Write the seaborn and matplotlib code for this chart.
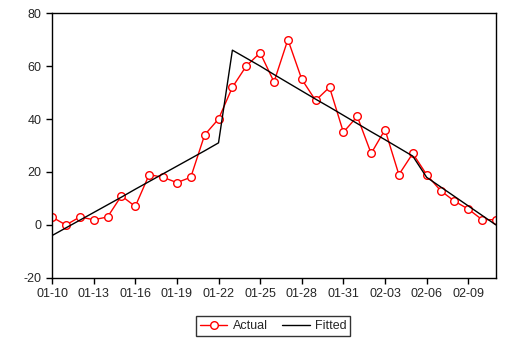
import matplotlib
matplotlib.use('Agg')
import matplotlib.pyplot as plt
import matplotlib.dates as mdates
import pandas as pd
import seaborn as sns

dates = pd.date_range('2020-01-10', '2020-02-11', freq='D')
actual = [3, 0, 3, 2, 3, 11, 7, 19, 18, 16, 18, 34, 40, 52, 60, 65, 54, 70, 55, 47,
          52, 35, 41, 27, 36, 19, 27, 19, 13, 9, 6, 2, 2]
fitted = [-4, -1.1, 1.8, 4.7, 7.6, 10.5, 13.5, 16.4, 19.3, 22.2, 25.1, 28.0, 31.0,
          66, 63, 60, 56.8, 53.7, 50.6, 47.5, 44.5, 41.4, 38.3, 35.2, 32.2, 29.1, 26.0,
          18, 14.4, 10.8, 7.2, 3.6, 0]

df = pd.DataFrame({'date': dates, 'Actual': actual, 'Fitted': fitted})

sns.set_style('white')
plt.rcParams['font.family'] = ['Liberation Sans', 'DejaVu Sans']
plt.rcParams['axes.unicode_minus'] = False

fig = plt.figure(figsize=(5.08, 3.44), dpi=100)
ax = fig.add_axes([0.1024, 0.192, 0.874, 0.770])

sns.lineplot(x='date', y='Actual', data=df, ax=ax, color='red', lw=1,
             marker='o', markersize=5.5, markerfacecolor='white',
             markeredgecolor='red', markeredgewidth=1, label='Actual')
sns.lineplot(x='date', y='Fitted', data=df, ax=ax, color='black', lw=1, label='Fitted')

ax.set_xlim(dates[0], dates[-1])
ax.set_ylim(-20, 80)
ax.set_yticks([-20, 0, 20, 40, 60, 80])
ax.set_xticks(dates[::3])
ax.xaxis.set_major_formatter(mdates.DateFormatter('%m-%d'))
ax.set_xlabel('')
ax.set_ylabel('')
for s in ax.spines.values():
    s.set_color('black')
    s.set_linewidth(1)
ax.tick_params(axis='both', which='major', direction='out', length=4, width=1,
               color='black', labelsize=9, left=True, bottom=True)

ax.get_legend().remove()
h, l = ax.get_legend_handles_labels()
leg = fig.legend(h, l, loc='center', bbox_to_anchor=(0.538, 0.052), ncol=2,
                 frameon=True, fancybox=False, fontsize=9, handlelength=2.2,
                 columnspacing=1.2, borderpad=0.3, handletextpad=0.4)
leg.get_frame().set_edgecolor('black')
leg.get_frame().set_linewidth(1)

plt.savefig('out.png', dpi=100)
